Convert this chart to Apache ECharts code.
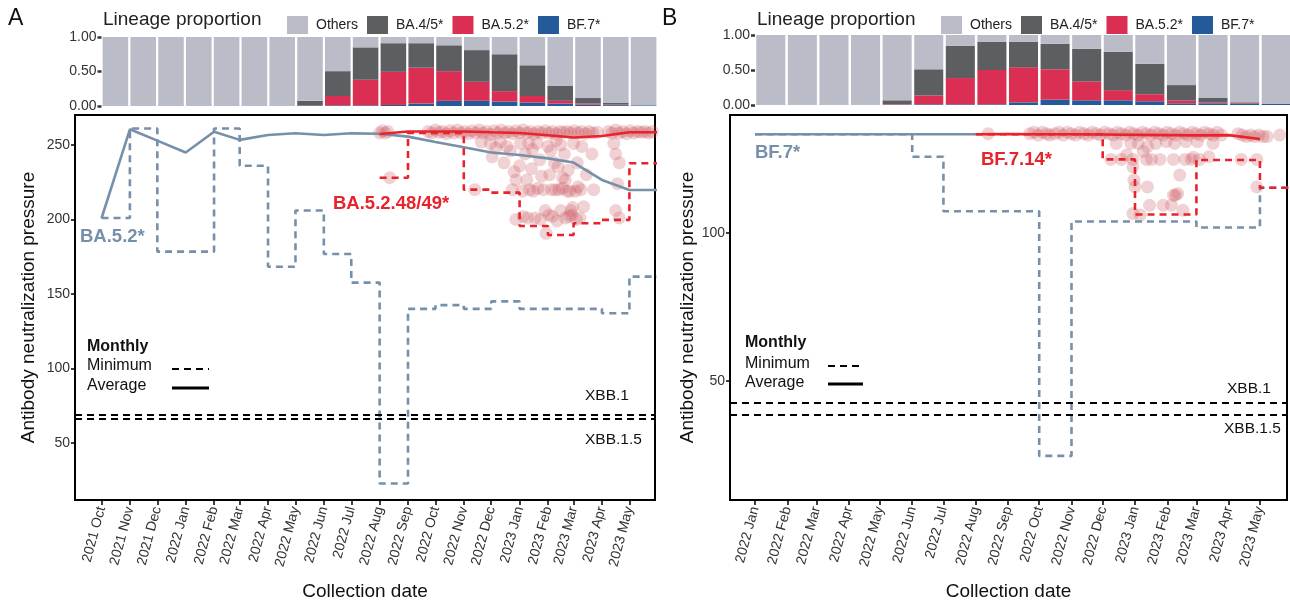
<!DOCTYPE html>
<html>
<head>
<meta charset="utf-8">
<script src="https://cdn.jsdelivr.net/npm/echarts@6/dist/echarts.min.js"></script>
<style>
  html, body { margin: 0; padding: 0; background: #fff; }
  #chart { width: 1290px; height: 605px; }
</style>
</head>
<body>
<div id="chart"></div>
<script>
// ---------- data ----------
const lineages = ["BF.7*", "BA.5.2*", "BA.4/5*", "Others"];

// panel A: months Oct 2021 - May 2023
const monthsA = ["2021-10-01","2021-11-01","2021-12-01","2022-01-01","2022-02-01","2022-03-01","2022-04-01",
  "2022-05-01","2022-06-01","2022-07-01","2022-08-01","2022-09-01","2022-10-01","2022-11-01","2022-12-01",
  "2023-01-01","2023-02-01","2023-03-01","2023-04-01","2023-05-01"];
const bf7A    = [0.005,0.005,0.005,0.005,0.005,0.005,0.005,0.005,0.01,0.01,0.015,0.035,0.075,0.075,0.065,0.05,0.035,0.02,0.012,0.01];
const ba52A   = [0,0,0,0,0,0,0,0,0.135,0.37,0.48,0.52,0.43,0.275,0.15,0.095,0.04,0.015,0.008,0];
const ba45A   = [0,0,0,0,0,0,0,0.07,0.36,0.47,0.415,0.355,0.375,0.46,0.535,0.445,0.215,0.08,0.025,0];
const othersA = [0.995,0.995,0.995,0.995,0.995,0.995,0.995,0.925,0.495,0.15,0.09,0.09,0.12,0.19,0.25,0.41,0.71,0.885,0.955,0.99];

// BA.5.2* monthly lines (month start dates + end of last month)
const datesBlueA = monthsA.concat(["2023-06-01"]);
const avgBlueA = [200.8,260.5,252.9,244.9,258.9,253.4,256.7,257.8,256.7,257.8,257.5,255.6,252,248.4,244.9,243.3,241,238.2,226.5,219.8,219.8];
const minBlueA = [201,261,178.4,178.4,261,236,168.3,206,176.8,157.6,22.8,140,142.5,140,145,140,140,140,137,161.6,161.6];
// BA.5.2.48/49* monthly lines
const datesRedA = ["2022-08-01","2022-09-01","2022-10-01","2022-11-01","2022-12-01","2023-01-01","2023-02-01","2023-03-01","2023-04-01","2023-05-01","2023-06-01"];
const avgRedA = [257.4,259,259,259,258.5,258,256.5,255,256,258.5,258.5];
const minRedA = [228,258,258,220,218,195.6,189.6,197.4,199.7,237.7,237.7];
const xbbA = [69.2, 66.3]; // XBB.1, XBB.1.5

// BA.5.2.48/49* sequences
const pointsA = [
  ["2022-08-01",258],["2022-08-04",259.5],["2022-08-07",258],["2022-08-10",259],["2022-08-12",228],
  ["2022-09-23",259],["2022-09-27",258],["2022-10-01",260],["2022-10-05",258.5],["2022-10-09",259],["2022-10-13",257.5],
  ["2022-10-17",259.5],["2022-10-21",258],["2022-10-25",260],["2022-10-29",258],["2022-11-02",259],["2022-11-06",257.5],
  ["2022-11-10",259.5],["2022-11-14",258],["2022-11-18",260],["2022-11-22",258],["2022-11-26",259],["2022-11-30",257],
  ["2022-12-04",259.5],["2022-12-08",258],["2022-12-12",260],["2022-12-16",258],["2022-12-20",259],["2022-12-24",257.5],
  ["2022-12-28",259.5],["2023-01-01",258],["2023-01-05",260],["2023-01-09",258],["2023-01-13",259],["2023-01-17",257.5],
  ["2023-01-21",259],["2023-01-25",258],["2023-01-29",259.5],["2023-02-02",258],["2023-02-06",259],["2023-02-10",257.5],
  ["2023-02-14",259],["2023-02-18",258.5],["2023-02-22",259],["2023-02-26",258],["2023-03-02",259.5],["2023-03-06",258],
  ["2023-03-10",259],["2023-03-14",257.5],["2023-03-18",259],["2023-03-22",258],["2023-03-27",258.5],
  ["2023-04-08",259],["2023-04-12",258],["2023-04-16",260],["2023-04-20",258],["2023-04-24",259],["2023-04-28",257.5],
  ["2023-05-02",259.5],["2023-05-06",258],["2023-05-10",259],["2023-05-14",258.5],["2023-05-18",259],["2023-05-22",258],
  ["2023-05-26",259],
  ["2022-11-13",220],["2022-11-20",252],["2022-11-30",251],["2022-12-02",242],["2022-12-06",248],["2022-12-11",252],
  ["2022-12-15",238],["2022-12-18",249],["2022-12-22",246],["2022-12-24",220],["2022-12-26",232],["2022-12-28",226.5],
  ["2022-12-28",200],["2023-01-01",236],["2023-01-02",251],["2023-01-04",219],["2023-01-05",202],["2023-01-07",244],
  ["2023-01-09",226.5],["2023-01-10",201],["2023-01-11",251],["2023-01-12",220],["2023-01-14",234],["2023-01-15",247],
  ["2023-01-16",219],["2023-01-18",201],["2023-01-20",251],["2023-01-21",221],["2023-01-23",240],["2023-01-24",200],
  ["2023-01-25",229],["2023-01-27",220],["2023-01-29",206],["2023-01-30",190.7],["2023-02-01",249],["2023-02-02",203],
  ["2023-02-03",230],["2023-02-04",246],["2023-02-05",220],["2023-02-06",202],["2023-02-08",238],["2023-02-09",220],
  ["2023-02-10",253],["2023-02-11",199],["2023-02-12",235.5],["2023-02-13",220],["2023-02-15",206],["2023-02-15",250],
  ["2023-02-17",228],["2023-02-17",221],["2023-02-19",244],["2023-02-20",226.5],["2023-02-20",201],["2023-02-22",219],
  ["2023-02-23",233],["2023-02-24",202],["2023-02-25",219],["2023-02-26",206],["2023-02-27",203],["2023-02-28",208],
  ["2023-03-01",251],["2023-03-03",219],["2023-03-04",200],["2023-03-05",238],["2023-03-06",222],["2023-03-08",201],
  ["2023-03-09",220],["2023-03-10",249],["2023-03-12",208.6],["2023-03-15",230],["2023-03-21",244],["2023-03-23",220],
  ["2023-04-14",251],["2023-04-16",244],["2023-04-16",206],["2023-04-18",224],["2023-04-20",238],["2023-04-20",201]
];

// panel B: months Jan 2022 - May 2023
const monthsB = ["2022-01-01","2022-02-01","2022-03-01","2022-04-01","2022-05-01","2022-06-01","2022-07-01",
  "2022-08-01","2022-09-01","2022-10-01","2022-11-01","2022-12-01","2023-01-01","2023-02-01","2023-03-01",
  "2023-04-01","2023-05-01"];
const bf7B    = [0.005,0.005,0.005,0.005,0.005,0.01,0.01,0.01,0.038,0.077,0.067,0.067,0.053,0.024,0.024,0.014,0.014];
const ba52B   = [0,0,0,0,0.007,0.125,0.375,0.49,0.5,0.433,0.27,0.145,0.101,0.043,0.014,0.01,0];
const ba45B   = [0,0,0,0,0.055,0.375,0.461,0.404,0.366,0.365,0.466,0.548,0.433,0.217,0.068,0.014,0];
const othersB = [0.995,0.995,0.995,0.995,0.933,0.49,0.154,0.096,0.096,0.125,0.197,0.24,0.413,0.716,0.894,0.962,0.986];

// BF.7* monthly lines
const datesBlueB = monthsB.concat(["2023-06-01"]);
const avgBlueB = [133.3,133.3,133.3,133.3,133.3,133.3,133.3,133.3,null,null,null,null,null,null,null,null,null,null];
const minBlueB = [133.3,133.3,133.3,133.3,133.3,125.7,107.3,107.3,107.3,24.6,103.8,103.8,103.8,103.8,101.8,101.8,115.2,115.2];
// BF.7.14* monthly lines
const datesRedB = ["2022-08-01","2022-09-01","2022-10-01","2022-11-01","2022-12-01","2023-01-01","2023-02-01","2023-03-01","2023-04-01","2023-05-01","2023-06-01"];
const avgRedB = [133.3,133.4,133.3,133.3,133.2,133.1,133,132.9,133,131.7,null];
const minRedB = [133.3,133.3,133.3,133.3,124.8,106.2,106.2,124.6,124.6,115.2,115.2];
const xbbB = [42.7, 38.6];

const pointsB = [
  ["2022-08-13",133.5],
  ["2022-09-22",133.5],["2022-09-26",134],["2022-09-30",133],["2022-10-04",134],["2022-10-08",133.5],["2022-10-11",133],
  ["2022-10-16",133.5],["2022-10-20",134],["2022-10-24",133],["2022-10-28",134],["2022-11-01",133.5],["2022-11-05",133],
  ["2022-11-09",134],["2022-11-13",133.5],["2022-11-17",133],["2022-11-21",134],["2022-11-25",133.5],["2022-11-29",133],
  ["2022-12-03",134],["2022-12-07",133.5],["2022-12-11",133],["2022-12-15",134],["2022-12-19",133.5],["2022-12-23",133],
  ["2022-12-27",134],["2022-12-31",133.5],["2023-01-04",133],["2023-01-08",134],["2023-01-12",133.5],["2023-01-16",133],
  ["2023-01-20",134],["2023-01-24",133.5],["2023-01-28",133],["2023-02-01",134],["2023-02-05",133.5],["2023-02-09",133],
  ["2023-02-13",134],["2023-02-17",133.5],["2023-02-21",133],["2023-02-25",134],["2023-03-01",133.5],["2023-03-05",133],
  ["2023-03-09",134],["2023-03-13",133.5],["2023-03-17",133],["2023-03-21",134],["2023-03-25",133],
  ["2023-04-10",133.5],["2023-04-14",133],["2023-04-18",132.5],["2023-04-22",133],["2023-04-26",132.5],["2023-04-30",133],
  ["2023-05-04",132.5],["2023-05-08",132.5],["2023-05-20",133],
  ["2022-12-09",124.8],["2022-12-14",130.2],["2022-12-19",124.8],["2022-12-24",126.3],["2022-12-28",130.2],["2022-12-30",124.8],
  ["2022-12-30",122.3],["2022-12-31",117.8],["2023-01-01",115.5],["2022-12-30",106.5],["2023-01-06",106],["2023-01-04",130.2],
  ["2023-01-09",127.5],["2023-01-12",124.8],["2023-01-13",129.1],["2023-01-13",115.5],["2023-01-15",109.3],["2023-01-17",124.8],
  ["2023-01-21",130.2],["2023-01-25",124.8],["2023-01-28",109.3],["2023-01-31",130.8],["2023-02-05",109.3],["2023-02-07",124.8],
  ["2023-02-07",112.7],["2023-02-08",130.2],["2023-02-09",112.7],["2023-02-11",113.3],["2023-02-13",119.5],["2023-02-16",107.6],
  ["2023-02-18",124.8],["2023-02-19",130.8],["2023-02-24",124.8],["2023-02-26",125.5],["2023-03-02",130.8],["2023-03-04",124.8],
  ["2023-03-13",125.7],["2023-03-17",130.2],["2023-04-13",124.8],["2023-04-28",124.8],["2023-04-28",115.5]
];

// axis ticks
const yTicksA = [50, 100, 150, 200, 250];
const yTicksB = [50, 100];
const propTicks = [0, 0.5, 1];

// ---------- helpers ----------
const ts = s => { const p = s.split("-").map(Number); return new Date(p[0], p[1] - 1, p[2]).getTime(); };
const MON = ["Jan","Feb","Mar","Apr","May","Jun","Jul","Aug","Sep","Oct","Nov","Dec"];
const FONT = "Liberation Sans, Arial, sans-serif";
const STEEL = "#7790a9";
const RED = "#e8232b";
const COLORS = { "BF.7*": "#245a99", "BA.5.2*": "#da2f52", "BA.4/5*": "#5d5e61", "Others": "#babdc7" };

const pair = (dates, vals) => dates.map((d, i) => [ts(d), vals[i]]);

function topAxes(gridIndex) {
  return {
    x: { type: "category", gridIndex, show: false, data: gridIndex === 0 ? monthsA : monthsB },
    y: {
      type: "value", gridIndex, min: 0, max: 1,
      axisLine: { show: false },
      splitLine: { show: false },
      axisTick: { show: true, length: 4, lineStyle: { color: "#333", width: 2.5 }, customValues: propTicks },
      axisLabel: { color: "#333", fontSize: 14, fontFamily: FONT, margin: 5, customValues: propTicks,
        formatter: v => v.toFixed(2) }
    }
  };
}

function mainAxes(gridIndex, min, max, ymin, ymax, ticks, months, nameGap) {
  return {
    x: {
      // dates are plotted as millisecond timestamps on a value axis
      type: "value", gridIndex, min: ts(min), max: ts(max),
      splitLine: { show: false },
      axisLine: { show: false },
      axisTick: { show: true, length: 5, lineStyle: { color: "#000", width: 1.5 }, customValues: months.map(ts) },
      axisLabel: {
        rotate: 75, fontSize: 14, color: "#333", fontFamily: FONT, margin: 7,
        customValues: months.map(ts),
        formatter: v => { const d = new Date(v); return d.getFullYear() + " " + MON[d.getMonth()]; }
      },
      name: "Collection date", nameLocation: "middle", nameGap: 82,
      nameTextStyle: { fontSize: 19, color: "#111", fontFamily: FONT }
    },
    y: {
      type: "value", gridIndex, min: ymin, max: ymax,
      splitLine: { show: false },
      axisLine: { show: false },
      axisTick: { show: true, length: 4, lineStyle: { color: "#000", width: 1.5 }, customValues: ticks },
      axisLabel: { fontSize: 14, color: "#333", fontFamily: FONT, margin: 5, customValues: ticks },
      name: "Antibody neutralization pressure", nameLocation: "middle", nameGap: nameGap, nameRotate: 90,
      nameTextStyle: { fontSize: 19, color: "#111", fontFamily: FONT }
    }
  };
}

function barSeries(axisIndex, vals) {
  return lineages.map((name, k) => ({
    name, type: "bar", stack: "p" + axisIndex, xAxisIndex: axisIndex, yAxisIndex: axisIndex,
    barCategoryGap: "8%", itemStyle: { color: COLORS[name] }, silent: true,
    data: vals[k]
  }));
}

function lineSeries(axisIndex, name, data, color, dashed, z) {
  return {
    name, type: "line", xAxisIndex: axisIndex, yAxisIndex: axisIndex, data,
    showSymbol: false, symbol: "none", z, silent: true,
    lineStyle: { color, width: 2.6, type: dashed ? [7, 5] : "solid" },
    step: dashed ? "end" : false
  };
}

function xbbLine(axisIndex, vals) {
  return {
    name: "xbb", type: "line", xAxisIndex: axisIndex, yAxisIndex: axisIndex, data: [], silent: true,
    markLine: {
      symbol: "none", silent: true, label: { show: false },
      lineStyle: { color: "#000", width: 1.8, type: [7, 5] },
      data: vals.map(v => ({ yAxis: v }))
    }
  };
}

function scatterSeries(axisIndex, pts) {
  return {
    name: "points", type: "scatter", xAxisIndex: axisIndex, yAxisIndex: axisIndex, z: 1, silent: true,
    symbolSize: 13, itemStyle: { color: "rgba(200, 80, 90, 0.32)" },
    data: pts.map(p => [ts(p[0]), p[1]])
  };
}

const tA = topAxes(0), tB = topAxes(2);
const mA = mainAxes(1, "2021-09-02", "2023-05-29", 11.7, 270.1, yTicksA, monthsA, 37);
const mB = mainAxes(3, "2021-12-08", "2023-05-27", 9.7, 139.8, yTicksB, monthsB, 31);

function txt(x, y, text, size, color, bold, align) {
  return { type: "text", x, y, silent: true,
    style: { text, fill: color, font: (bold ? "bold " : "") + size + "px " + FONT,
      verticalAlign: "middle", align: align || "left" } };
}
function seg(x1, x2, y, dashed, w) {
  return { type: "line", silent: true, shape: { x1, y1: y, x2, y2: y },
    style: { stroke: "#000", lineWidth: w, lineDash: dashed ? [7, 5] : null } };
}

const gridBase = { outerBoundsMode: "none", containLabel: false };
const option = {
  animation: false,
  backgroundColor: "#fff",
  textStyle: { fontFamily: FONT },
  grid: [
    Object.assign({ left: 101.5, top: 37, width: 556, height: 69 }, gridBase),
    Object.assign({ left: 75, top: 115, width: 580, height: 385, show: true, borderColor: "#000", borderWidth: 2, backgroundColor: "transparent" }, gridBase),
    Object.assign({ left: 755, top: 35, width: 537, height: 70 }, gridBase),
    Object.assign({ left: 730, top: 115, width: 557, height: 385, show: true, borderColor: "#000", borderWidth: 2, backgroundColor: "transparent" }, gridBase)
  ],
  xAxis: [tA.x, mA.x, tB.x, mB.x],
  yAxis: [tA.y, mA.y, tB.y, mB.y],
  legend: [
    { left: 282, top: 11, itemWidth: 21, itemHeight: 18, itemGap: 9, icon: "rect", selectedMode: false,
      data: ["Others", "BA.4/5*", "BA.5.2*", "BF.7*"],
      textStyle: { fontSize: 14, color: "#222", fontFamily: FONT, padding: [0, 0, 0, 3] } },
    { left: 936, top: 11, itemWidth: 21, itemHeight: 18, itemGap: 9, icon: "rect", selectedMode: false,
      data: ["Others", "BA.4/5*", "BA.5.2*", "BF.7*"],
      textStyle: { fontSize: 14, color: "#222", fontFamily: FONT, padding: [0, 0, 0, 3] } }
  ],
  series: [
    ...barSeries(0, [bf7A, ba52A, ba45A, othersA]),
    scatterSeries(1, pointsA),
    xbbLine(1, xbbA),
    lineSeries(1, "minBlueA", pair(datesBlueA, minBlueA), STEEL, true, 3),
    lineSeries(1, "avgBlueA", pair(datesBlueA, avgBlueA), STEEL, false, 4),
    lineSeries(1, "minRedA", pair(datesRedA, minRedA), RED, true, 5),
    lineSeries(1, "avgRedA", pair(datesRedA, avgRedA), RED, false, 6),
    ...barSeries(2, [bf7B, ba52B, ba45B, othersB]),
    scatterSeries(3, pointsB),
    xbbLine(3, xbbB),
    lineSeries(3, "minBlueB", pair(datesBlueB, minBlueB), STEEL, true, 3),
    lineSeries(3, "avgBlueB", pair(datesBlueB, avgBlueB), STEEL, false, 4),
    lineSeries(3, "minRedB", pair(datesRedB, minRedB), RED, true, 5),
    lineSeries(3, "avgRedB", pair(datesRedB, avgRedB), RED, false, 6)
  ],
  graphic: [
    txt(8, 19, "A", 23, "#111"),
    txt(662, 19, "B", 23, "#111"),
    txt(103, 20, "Lineage proportion", 19, "#222"),
    txt(757, 20, "Lineage proportion", 19, "#222"),
    txt(80, 237, "BA.5.2*", 18.5, STEEL, true),
    txt(333, 204, "BA.5.2.48/49*", 18.5, RED, true),
    txt(755, 153, "BF.7*", 18.5, STEEL, true),
    txt(981, 160, "BF.7.14*", 18.5, RED, true),
    txt(585, 396, "XBB.1", 15.5, "#111"),
    txt(585, 440, "XBB.1.5", 15.5, "#111"),
    txt(1227, 389, "XBB.1", 15.5, "#111"),
    txt(1224, 429, "XBB.1.5", 15.5, "#111"),
    txt(87, 347, "Monthly", 16, "#111", true),
    txt(87, 366, "Minimum", 16, "#111"),
    txt(87, 386, "Average", 16, "#111"),
    seg(172, 209, 369, true, 2.2),
    seg(172, 209, 388, false, 3),
    txt(745, 343, "Monthly", 16, "#111", true),
    txt(745, 364, "Minimum", 16, "#111"),
    txt(745, 383, "Average", 16, "#111"),
    seg(828, 863, 366, true, 2.2),
    seg(828, 863, 384, false, 3)
  ]
};

const chart = echarts.init(document.getElementById("chart"));
chart.setOption(option);
window.addEventListener("resize", () => chart.resize());
</script>
</body>
</html>
